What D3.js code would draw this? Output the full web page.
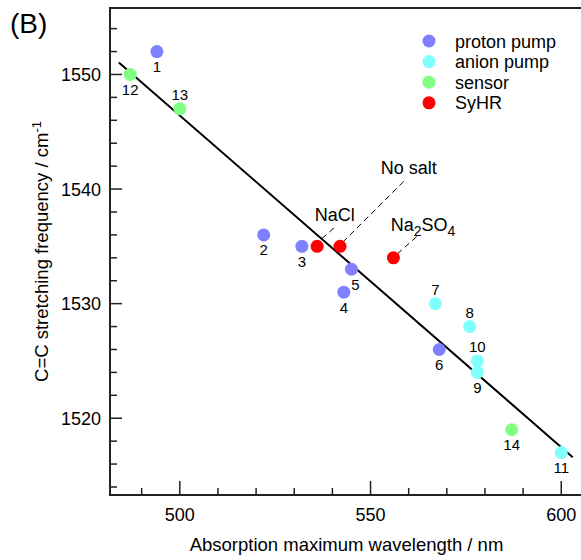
<!DOCTYPE html>
<html>
<head>
<meta charset="utf-8">
<script src="https://cdn.jsdelivr.net/npm/d3@7"></script>
<style>
  body { margin: 0; background: #fff; }
  text { font-family: Arial, "Liberation Sans", sans-serif; fill: #000; }
</style>
</head>
<body>
<svg id="chart"></svg>
<script>
// rhodopsin C=C stretch vs absorption max

var groups = ["proton pump", "anion pump", "sensor", "SyHR"];
var groupColors = ["#8080ff", "#80ffff", "#80ff80", "#ff0000"];

var labels = ["1", "12", "13", "2", "3", "5", "4", "7", "8", "6", "10", "9", "14", "11", "", "", ""];
var kinds  = [0, 2, 2, 0, 0, 0, 0, 1, 1, 0, 1, 1, 2, 1, 3, 3, 3];
var lambda = [494, 487, 500, 522, 532, 545, 543, 567, 576, 568, 578, 578, 587, 600, 536, 542, 556];
var freq   = [1552, 1550, 1547, 1536, 1535, 1533, 1531, 1530, 1528, 1526, 1525, 1524, 1519, 1517, 1535, 1535, 1534];
// where the number goes: below or above the dot
var labelPos = ["b", "b", "a", "b", "b", "br", "b", "a", "a", "b", "a", "b", "b", "b", "", "", ""];

var fitX = [484, 603];
var fitY = [1551.05, 1516.6];

var width = 581, height = 560;
var pL = 110, pT = 8, pR = 583, pB = 495;

var x = d3.scaleLinear().domain([481.7, 605.7]).range([pL, pR]);
var y = d3.scaleLinear().domain([1513.3, 1555.8]).range([pB, pT]);

var svg = d3.select("#chart")
    .attr("width", width)
    .attr("height", height);

// frame
svg.append("path")
    .attr("d", "M" + pR + "," + pT + "H" + pL + "V" + pB + "H" + pR)
    .attr("fill", "none")
    .attr("stroke", "#222")
    .attr("stroke-width", 2);

// ticks (inside)
var xMinor = d3.range(490, 606, 10);
svg.append("g").selectAll("line")
    .data(xMinor)
    .enter()
    .append("line")
    .attr("x1", function(d) { return x(d); })
    .attr("x2", function(d) { return x(d); })
    .attr("y1", pB)
    .attr("y2", function(d) { return d % 50 == 0 ? pB - 14 : pB - 7; })
    .attr("stroke", "#222")
    .attr("stroke-width", 1.5);

var xMajor = [500, 550, 600];
svg.append("g").selectAll("text")
    .data(xMajor)
    .enter()
    .append("text")
    .attr("x", function(d) { return x(d); })
    .attr("y", pB + 26)
    .attr("text-anchor", "middle")
    .attr("font-size", 18)
    .text(function(d) { return d; });

var yMinor = d3.range(1514, 1556, 2);
svg.append("g").selectAll("line")
    .data(yMinor)
    .enter()
    .append("line")
    .attr("x1", pL)
    .attr("x2", function(d) { return d % 10 == 0 ? pL + 12 : pL + 7; })
    .attr("y1", function(d) { return y(d); })
    .attr("y2", function(d) { return y(d); })
    .attr("stroke", "#222")
    .attr("stroke-width", 1.5);

var yMajor = [1520, 1530, 1540, 1550];
svg.append("g").selectAll("text")
    .data(yMajor)
    .enter()
    .append("text")
    .attr("x", pL - 9)
    .attr("y", function(d) { return y(d) + 6.5; })
    .attr("text-anchor", "end")
    .attr("font-size", 18)
    .text(function(d) { return d; });

// axis titles
svg.append("text")
    .attr("x", (pL + pR) / 2)
    .attr("y", 551)
    .attr("text-anchor", "middle")
    .attr("font-size", 18.5)
    .text("Absorption maximum wavelength / nm");

var yt = svg.append("text")
    .attr("transform", "translate(48," + ((pT + pB) / 2) + ") rotate(-90)")
    .attr("text-anchor", "middle")
    .attr("font-size", 18.5);
yt.append("tspan").text("C=C stretching frequency / cm");
yt.append("tspan").attr("dy", -7).attr("font-size", 13).text("-1");

svg.append("text")
    .attr("x", 10)
    .attr("y", 33)
    .attr("font-size", 28)
    .text("(B)");

// fit line
svg.append("line")
    .attr("x1", x(fitX[0]))
    .attr("y1", y(fitY[0]))
    .attr("x2", x(fitX[1]))
    .attr("y2", y(fitY[1]))
    .attr("stroke", "#000")
    .attr("stroke-width", 2);

// annotation leaders (data coords)
var notes = [
    {text: "NaCl", tx: 540.6, ty: 1537.2, from: [540.4, 1536.6], to: [537.0, 1535.6]},
    {text: "No salt", tx: 560, ty: 1541.3, from: [558.7, 1540.66], to: [542.6, 1535.33]},
    {text: "Na2SO4", tx: 555.3, ty: 1536.3, from: [562.1, 1535.85], to: [556.9, 1534.3]}
];
svg.append("g").selectAll("line")
    .data(notes)
    .enter()
    .append("line")
    .attr("x1", function(d) { return x(d.from[0]); })
    .attr("y1", function(d) { return y(d.from[1]); })
    .attr("x2", function(d) { return x(d.to[0]); })
    .attr("y2", function(d) { return y(d.to[1]); })
    .attr("stroke", "#000")
    .attr("stroke-width", 1)
    .attr("stroke-dasharray", "6,4");

svg.append("text").attr("x", x(notes[0].tx)).attr("y", y(notes[0].ty))
    .attr("text-anchor", "middle").attr("font-size", 18).text("NaCl");
svg.append("text").attr("x", x(notes[1].tx)).attr("y", y(notes[1].ty))
    .attr("text-anchor", "middle").attr("font-size", 18).text("No salt");
var na = svg.append("text").attr("x", x(notes[2].tx)).attr("y", y(notes[2].ty))
    .attr("font-size", 18);
na.append("tspan").text("Na");
na.append("tspan").attr("dy", 5).attr("font-size", 14).text("2");
na.append("tspan").attr("dy", -5).text("SO");
na.append("tspan").attr("dy", 5).attr("font-size", 14).text("4");

// points
var idx = d3.range(lambda.length);
svg.append("g").selectAll("circle")
    .data(idx)
    .enter()
    .append("circle")
    .attr("cx", function(i) { return x(lambda[i]); })
    .attr("cy", function(i) { return y(freq[i]); })
    .attr("r", 6.5)
    .attr("fill", function(i) { return groupColors[kinds[i]]; });

svg.append("g").selectAll("text")
    .data(idx.filter(function(i) { return labels[i] != ""; }))
    .enter()
    .append("text")
    .attr("x", function(i) { return x(lambda[i]) + (labelPos[i] == "br" ? 4 : 0); })
    .attr("y", function(i) { return y(freq[i]) + (labelPos[i] == "a" ? -9 : 20.5); })
    .attr("text-anchor", "middle")
    .attr("font-size", 15)
    .text(function(i) { return labels[i]; });

// legend
var legend = svg.append("g").selectAll("g")
    .data(groups)
    .enter()
    .append("g")
    .attr("transform", function(d, i) { return "translate(429," + (41 + i * 20.6) + ")"; });
legend.append("circle")
    .attr("r", 6.5)
    .attr("fill", function(d, i) { return groupColors[i]; });
legend.append("text")
    .attr("x", 26)
    .attr("y", 6.5)
    .attr("font-size", 18)
    .text(function(d) { return d; });
</script>
</body>
</html>
